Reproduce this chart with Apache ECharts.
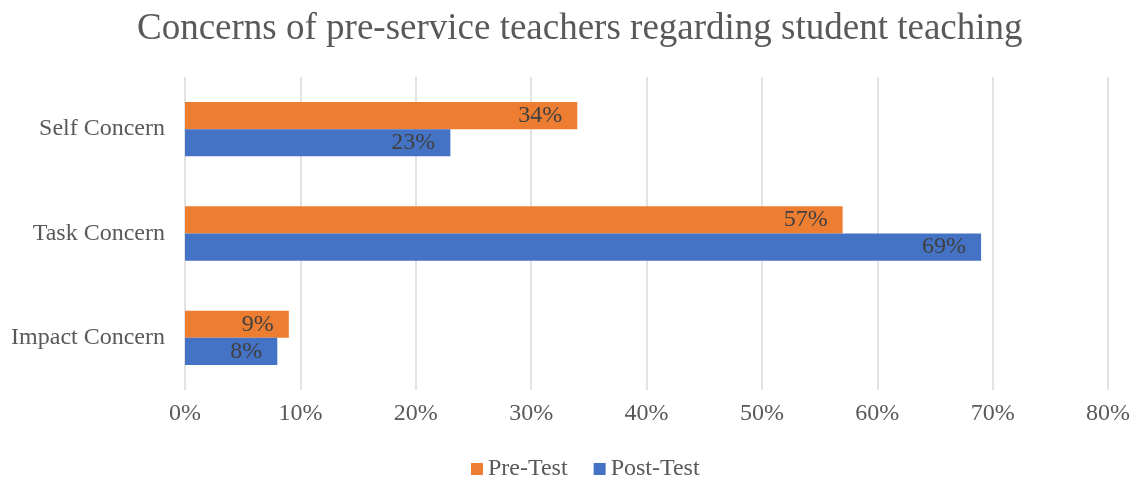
<!DOCTYPE html>
<html>
<head>
<meta charset="utf-8">
<script src="https://cdn.jsdelivr.net/npm/echarts@6/dist/echarts.min.js"></script>
<style>
  html, body { margin: 0; padding: 0; background: #fff; }
  #main { width: 1133px; height: 479px; }
</style>
</head>
<body>
<div id="main"></div>
<script>
var categories = ['Self Concern', 'Task Concern', 'Impact Concern'];
var preTest = [34, 57, 9];
var postTest = [23, 69, 8];
var xTicks = [0, 10, 20, 30, 40, 50, 60, 70, 80];

var chartDom = document.getElementById('main');
var myChart = echarts.init(chartDom);
var font = 'Liberation Serif, Times New Roman, serif';

var option = {
    animation: false,
    title: {
        text: 'Concerns of pre-service teachers regarding student teaching',
        left: 132,
        top: 6,
        textStyle: { fontFamily: font, fontSize: 37, fontWeight: 'normal', color: '#595959' }
    },
    legend: {
        data: ['Pre-Test', 'Post-Test'],
        top: 452,
        left: 466,
        itemWidth: 12,
        itemHeight: 12,
        itemGap: 26,
        icon: 'rect',
        textStyle: { fontFamily: font, fontSize: 24, color: '#595959' }
    },
    grid: { left: 185, right: 25, top: 77, bottom: 89, containLabel: false },
    xAxis: {
        type: 'value',
        min: xTicks[0],
        max: xTicks[xTicks.length - 1],
        interval: 10,
        axisLine: { show: false },
        axisTick: { show: false },
        splitLine: { lineStyle: { color: '#d9d9d9', width: 1.5 } },
        axisLabel: {
            formatter: '{value}%',
            margin: 12,
            fontFamily: font, fontSize: 24, color: '#595959'
        }
    },
    yAxis: {
        type: 'category',
        data: categories,
        inverse: true,
        axisLine: { show: false },
        axisTick: { show: false },
        axisLabel: { margin: 20, fontFamily: font, fontSize: 24, color: '#595959' }
    },
    series: [
        {
            name: 'Pre-Test',
            type: 'bar',
            data: preTest,
            barGap: '0%',
            barCategoryGap: '48%',
            itemStyle: { color: '#ed7d31' },
            label: {
                show: true, position: 'insideRight', formatter: '{c}%', distance: 15,
                fontFamily: font, fontSize: 24, color: '#404040'
            }
        },
        {
            name: 'Post-Test',
            type: 'bar',
            data: postTest,
            barGap: '0%',
            barCategoryGap: '48%',
            itemStyle: { color: '#4472c4' },
            label: {
                show: true, position: 'insideRight', formatter: '{c}%', distance: 15,
                fontFamily: font, fontSize: 24, color: '#404040'
            }
        }
    ]
};

option && myChart.setOption(option);
</script>
</body>
</html>
